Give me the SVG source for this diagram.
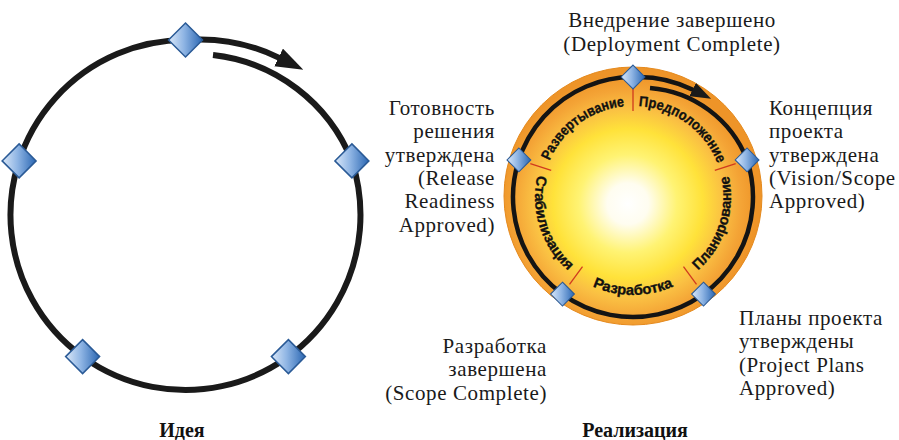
<svg xmlns="http://www.w3.org/2000/svg" width="899" height="440" viewBox="0 0 899 440">
<style>
.lbl{font-family:"Liberation Serif","Times New Roman",serif;font-size:21px;fill:#1a1a1a;letter-spacing:0.6px}
.cap{font-family:"Liberation Serif","Times New Roman",serif;font-size:20px;font-weight:bold;fill:#111;text-anchor:middle}
.phase{font-family:"Liberation Sans",Arial,sans-serif;font-size:14.5px;font-weight:bold;fill:#111;stroke:#111;stroke-width:0.35}
.ringL{fill:none;stroke:#1a1a1a;stroke-width:6}
.ringR{fill:none;stroke:#141414;stroke-width:4.5}
.div{stroke:#d03a1e;stroke-width:1.3}
</style>
<defs>
 <linearGradient id="gDia" x1="0" y1="0" x2="1" y2="0">
  <stop offset="0" stop-color="#dbe8f8"/>
  <stop offset="0.45" stop-color="#8fb5e4"/>
  <stop offset="1" stop-color="#2a66b2"/>
 </linearGradient>
 <radialGradient id="gSun" cx="0.48" cy="0.53" r="0.5">
  <stop offset="0" stop-color="#ffffff"/>
  <stop offset="0.16" stop-color="#fffdf0"/>
  <stop offset="0.38" stop-color="#fff373"/>
  <stop offset="0.58" stop-color="#ffe23a"/>
  <stop offset="0.74" stop-color="#fac043"/>
  <stop offset="0.88" stop-color="#f4a436"/>
  <stop offset="1" stop-color="#ee9428"/>
 </radialGradient>
 <marker id="arrow" viewBox="0 0 10 8" markerWidth="4.6" markerHeight="3.3" refX="0.5" refY="4" orient="auto" markerUnits="strokeWidth" preserveAspectRatio="none">
  <path d="M0,0 L10,4 L0,8 z" fill="#1a1a1a"/>
 </marker>
 <polygon id="dia" points="0,-17 17,0 0,17 -17,0" fill="url(#gDia)" stroke="#2a5a96" stroke-width="1.5"/>
 <path id="pArc1" d="M546.45,168.88 A91,91 0 0 1 633,106"/>
 <path id="pArc2" d="M633,106 A91,91 0 0 1 719.55,168.88"/>
 <path id="pArc3" d="M690.6,276.28 A98,98 0 0 0 726.21,166.72"/>
 <path id="pArc4" d="M575.4,276.28 A98,98 0 0 0 690.6,276.28"/>
 <path id="pArc5" d="M539.79,166.72 A98,98 0 0 0 575.4,276.28"/>
</defs>

<!-- Right diagram background -->
<g id="sun">
 <circle cx="633" cy="196" r="129" fill="url(#gSun)" stroke="#e58a1e" stroke-width="1"/>
 <line class="div" x1="633" y1="111" x2="633" y2="89"/>
 <line class="div" x1="714.8" y1="170.4" x2="735.7" y2="163.6"/>
 <line class="div" x1="683.5" y1="266.6" x2="696.5" y2="284.4"/>
 <line class="div" x1="582.5" y1="266.6" x2="569.5" y2="284.4"/>
 <line class="div" x1="551.2" y1="170.4" x2="530.3" y2="163.6"/>
 <text class="phase"><textPath href="#pArc1" startOffset="50%" text-anchor="middle" textLength="97" lengthAdjust="spacingAndGlyphs">Развертывание</textPath></text>
 <text class="phase"><textPath href="#pArc2" startOffset="50%" text-anchor="middle" textLength="103" lengthAdjust="spacingAndGlyphs">Предположение</textPath></text>
 <text class="phase"><textPath href="#pArc3" startOffset="50%" text-anchor="middle" textLength="104" lengthAdjust="spacingAndGlyphs">Планирование</textPath></text>
 <text class="phase"><textPath href="#pArc4" startOffset="50%" text-anchor="middle" textLength="83" lengthAdjust="spacingAndGlyphs">Разработка</textPath></text>
 <text class="phase"><textPath href="#pArc5" startOffset="50%" text-anchor="middle" textLength="105" lengthAdjust="spacingAndGlyphs">Стабилизация</textPath></text>
</g>

<g id="connectors">
 <path class="ringL" d="M213,55 A170,170 0 0 1 351.9,160.9 A175,175 0 1 1 185.5,40 A181,181 0 0 1 279.8,58.1" marker-end="url(#arrow)"/>
 <path class="ringR" d="M650,88 A114,114 0 0 1 747.1,159.9 A120,120 0 1 1 633,77 A123,123 0 0 1 693.5,90" marker-end="url(#arrow)"/>
</g>

<!-- Left diagram milestones -->
<g id="L-top"><use href="#dia" x="185.5" y="40"/></g>
<g id="L-right"><use href="#dia" x="351.9" y="160.9"/></g>
<g id="L-botright"><use href="#dia" x="288.4" y="356.6"/></g>
<g id="L-botleft"><use href="#dia" x="82.6" y="356.6"/></g>
<g id="L-left"><use href="#dia" x="19.1" y="160.9"/></g>

<!-- Right diagram milestones -->
<g id="R-top">
 <use href="#dia" transform="translate(633,77) scale(0.7)"/>
 <text class="lbl" text-anchor="middle"><tspan x="672" y="27">Внедрение завершено</tspan><tspan x="672" y="51">(Deployment Complete)</tspan></text>
</g>
<g id="R-right">
 <use href="#dia" transform="translate(747.1,159.9) scale(0.7)"/>
 <text class="lbl"><tspan x="769" y="115">Концепция</tspan><tspan x="769" y="138.3">проекта</tspan><tspan x="769" y="161.6">утверждена</tspan><tspan x="769" y="184.9">(Vision/Scope</tspan><tspan x="769" y="208.2">Approved)</tspan></text>
</g>
<g id="R-botright">
 <use href="#dia" transform="translate(703.5,294.1) scale(0.7)"/>
 <text class="lbl"><tspan x="739" y="325">Планы проекта</tspan><tspan x="739" y="348.3">утверждены</tspan><tspan x="739" y="371.6">(Project Plans</tspan><tspan x="739" y="394.9">Approved)</tspan></text>
</g>
<g id="R-botleft">
 <use href="#dia" transform="translate(562.5,294.1) scale(0.7)"/>
 <text class="lbl" text-anchor="end"><tspan x="547" y="353">Разработка</tspan><tspan x="547" y="376.3">завершена</tspan><tspan x="547" y="399.6">(Scope Complete)</tspan></text>
</g>
<g id="R-left">
 <use href="#dia" transform="translate(518.9,159.9) scale(0.7)"/>
 <text class="lbl" text-anchor="end"><tspan x="495" y="115">Готовность</tspan><tspan x="495" y="138.3">решения</tspan><tspan x="495" y="161.6">утверждена</tspan><tspan x="495" y="184.9">(Release</tspan><tspan x="495" y="208.2">Readiness</tspan><tspan x="495" y="231.5">Approved)</tspan></text>
</g>

<g id="captions">
 <text class="cap" x="182" y="437">Идея</text>
 <text class="cap" x="635" y="437">Реализация</text>
</g>
</svg>
